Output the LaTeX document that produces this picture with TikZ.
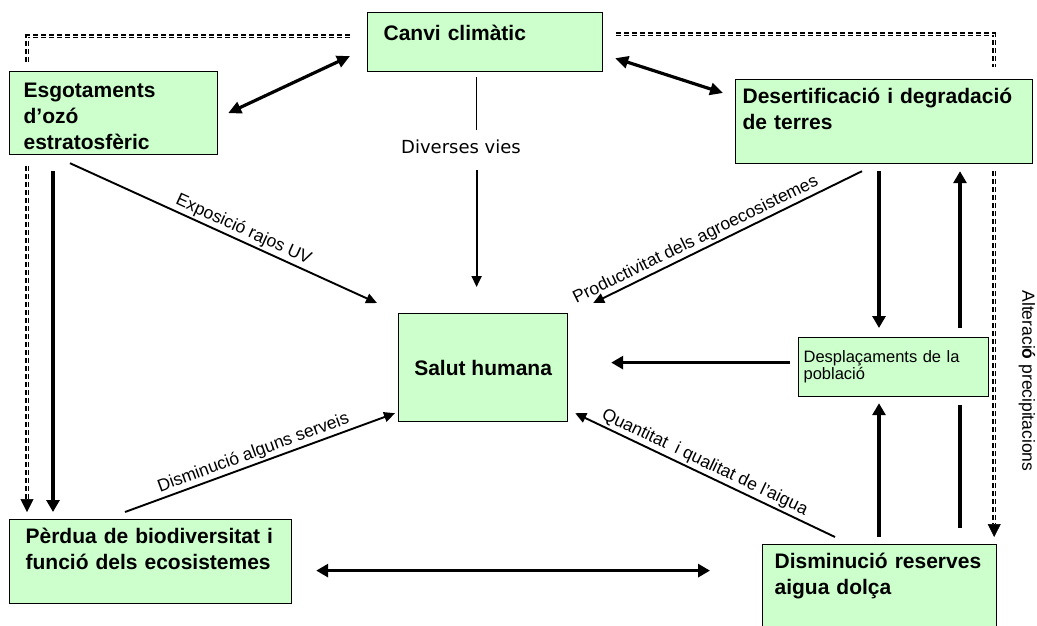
\documentclass[tikz,border=0pt]{standalone}
\usepackage{fontspec}
\setmainfont{Liberation Sans}
\newfontfamily\viesfont{DejaVu Sans}
\usetikzlibrary{arrows.meta}
\definecolor{boxgreen}{HTML}{CCFFCC}

\begin{document}
\begin{tikzpicture}[x=1pt,y=-1pt,
    box/.style={draw,fill=boxgreen,line width=1.2pt,anchor=north west,align=left,
      inner xsep=#1,inner ysep=0pt,font=\fontsize{21}{26}\selectfont\bfseries},
    lbl/.style={font=\fontsize{17.5}{20}\selectfont,inner sep=2pt},
    labarr/.style={line width=1.9pt,-{Triangle[width=10pt,length=11pt]}},
    duoarr/.style={line width=3.2pt,{Triangle[width=12pt,length=13pt]}-{Triangle[width=12pt,length=13pt]}},
    heavyarr/.style={line width=3.6pt,-{Triangle[width=13pt,length=12pt]}},
    heavyboth/.style={line width=3.6pt,{Triangle[width=13pt,length=12pt]}-{Triangle[width=13pt,length=12pt]}},
    dbl/.style={line width=4.4pt,dash pattern=on 5pt off 3pt},
    dblmid/.style={draw=white,line width=1pt},
    dbltip/.style={line width=0.5pt,-{Triangle[width=13pt,length=13pt]}}]
  \useasboundingbox (0,0) rectangle (1037,625);

  % caixes
  \node[box=16pt,text width=203pt,text height=28pt,text depth=31pt] (canvi) at (367,12) {Canvi climàtic};
  \node[box=14pt,text width=180pt,text height=26pt,text depth=57pt] (esgot) at (9,71) {Esgotaments\\d’ozó\\estratosfèric};
  \node[box=7pt,text width=283pt,text height=24pt,text depth=60pt] (desert) at (735,79) {Desertificació i degradació\\de terres};
  \node[box=0pt,align=center,minimum width=169pt,minimum height=108pt] (salut) at (398,313) {Salut humana};
  \node[box=5pt,text width=180pt,text height=25pt,text depth=34pt,font=\fontsize{16.5}{17}\selectfont] (despl) at (798,337) {Desplaçaments de la\\població};
  \node[box=16pt,text width=250pt,text height=24pt,text depth=60pt] (perdua) at (9,519) {Pèrdua de biodiversitat i\\funció dels ecosistemes};
  \node[box=12pt,text width=210pt,text height=24pt,text depth=72pt] (aigua) at (762,544) {Disminució reserves\\aigua dolça};

  % fletxes dobles
  \draw[duoarr] ([shift={(10,0)}]esgot.east) -- ([shift={(-17,14)}]canvi.west);
  \draw[duoarr] ([shift={(12,-14)}]canvi.south east) -- ([shift={(-12,14)}]desert.north west);

  % diverses vies
  \node[lbl,font=\fontsize{18}{20}\selectfont\viesfont,inner ysep=10pt] (vies) at (461,147) {Diverses vies};
  \draw[line width=1.3pt] ([shift={(-8.5,5)}]canvi.south) coordinate (cv) -- (cv |- vies.north);
  \draw[labarr,shorten <=6pt,shorten >=26pt] (cv |- vies.south) -- (cv |- salut.north);

  % cap a la salut
  \draw[labarr] ([shift={(61,8)}]esgot.south west) -- node[lbl,sloped,above,pos=0.55] {Exposició rajos UV} ([shift={(-21,-10)}]salut.north west);
  \draw[labarr] ([shift={(127,7)}]desert.south west) -- node[lbl,sloped,above,pos=0.6] {Productivitat dels agroecosistemes} ([shift={(25,-10)}]salut.north east);
  \draw[labarr] ([shift={(116,-7)}]perdua.north west) -- node[lbl,sloped,above,pos=0.49] {Disminució alguns serveis} ([shift={(-3,-9)}]salut.south west);
  \draw[labarr] ([shift={(73,-7)}]aigua.north west) -- node[lbl,sloped,above,pos=0.52] {Quantitat~ i qualitat de l’aigua} ([shift={(7,-9)}]salut.south east);

  % fletxes gruixudes
  \draw[heavyarr,shorten >=7pt] ([shift={(44,16)}]esgot.south west) coordinate (e1) -- (e1 |- perdua.north);
  \draw[heavyarr,shorten >=9pt] ([shift={(144,7)}]desert.south west) coordinate (d1) -- (d1 |- despl.north);
  \draw[heavyarr,shorten >=7pt] ([shift={(162,-9)}]despl.north west) coordinate (d2) -- (d2 |- desert.south);
  \draw[heavyarr,shorten >=6pt] ([shift={(117,-7)}]aigua.north west) coordinate (a1) -- (a1 |- despl.south);
  \draw[line width=3.6pt,shorten >=16pt] ([shift={(162,8)}]despl.south west) coordinate (a2) -- (a2 |- aigua.north);
  \draw[heavyarr,shorten >=43pt] ([shift={(-8,-4.5)}]despl.west) coordinate (s1) -- (s1 -| salut.east);
  \draw[heavyboth,shorten >=52pt] ([shift={(24,9)}]perdua.east) coordinate (p1) -- (p1 -| aigua.west);

  % linies discontinues
  \draw[dbl] ([shift={(-17,24)}]canvi.north west) coordinate (t1) -| ([shift={(18,-9)}]esgot.north west) coordinate (t2);
  \draw[dblmid] (t1) -| (t2);
  \draw[dbl,shorten >=20pt] ([shift={(18,11)}]esgot.south west) coordinate (g1) -- (g1 |- perdua.north);
  \draw[dblmid,shorten >=20pt] (g1) -- (g1 |- perdua.north);
  \draw[dbltip] ([shift={(0,-20)}]g1 |- perdua.north) -- ([shift={(0,-7)}]g1 |- perdua.north);
  \draw[dbl] ([shift={(13,22)}]canvi.north east) coordinate (t3) -| ([shift={(-39,-12)}]desert.north east) coordinate (t4);
  \draw[dblmid] (t3) -| (t4);
  \draw[dbl,shorten >=20pt] ([shift={(-39,7)}]desert.south east) coordinate (g2) -- (g2 |- aigua.north);
  \draw[dblmid,shorten >=20pt] (g2) -- (g2 |- aigua.north);
  \draw[dbltip] ([shift={(0,-20)}]g2 |- aigua.north) -- ([shift={(0,-7)}]g2 |- aigua.north);
  \node[lbl,rotate=-90] (prec) at (1027,381) {Alteraci\textbf{ó} precipitacions};
\end{tikzpicture}
\end{document}
